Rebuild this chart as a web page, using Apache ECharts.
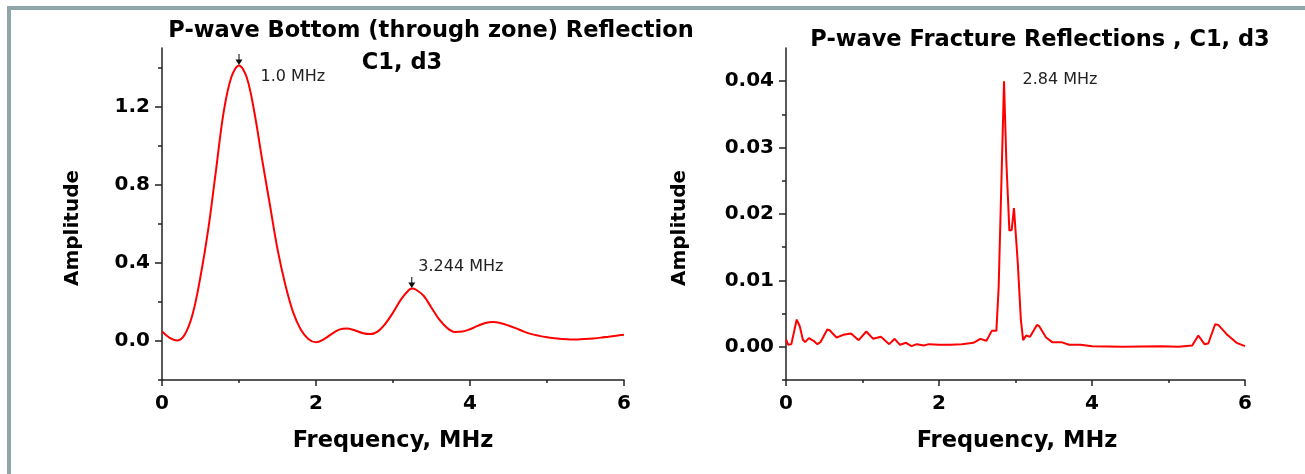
<!DOCTYPE html>
<html><head><meta charset="utf-8">
<script src="https://cdn.jsdelivr.net/npm/echarts@6/dist/echarts.min.js"></script>
<style>html,body{margin:0;padding:0;background:#fff}#c{width:1305px;height:474px}</style>
</head><body><div id="c"></div>
<script>
// ---------- data ----------
const bottomFreq = [0.0,0.1,0.2,0.3,0.4,0.5,0.6,0.7,0.8,0.9,1.0,1.1,1.2,1.3,1.4,1.5,1.6,1.7,1.8,1.9,2.0,2.1,2.2,2.3,2.4,2.5,2.6,2.7,2.8,2.9,3.0,3.1,3.2,3.244,3.3,3.4,3.5,3.6,3.7,3.8,3.9,4.0,4.1,4.2,4.3,4.4,4.5,4.6,4.7,4.8,4.9,5.0,5.1,5.2,5.3,5.4,5.5,5.6,5.7,5.8,5.9,6.0];
const bottomAmp  = [0.048,0.016,0.002,0.035,0.14,0.33,0.57,0.87,1.17,1.35,1.41,1.35,1.17,0.93,0.70,0.47,0.29,0.15,0.06,0.01,-0.007,0.008,0.035,0.058,0.064,0.055,0.041,0.035,0.048,0.088,0.145,0.21,0.258,0.268,0.262,0.23,0.17,0.11,0.068,0.046,0.048,0.06,0.077,0.092,0.097,0.091,0.079,0.064,0.048,0.035,0.026,0.019,0.014,0.01,0.008,0.008,0.01,0.013,0.017,0.022,0.027,0.032];

const fractureFreq = [0.00,0.03,0.07,0.14,0.18,0.22,0.25,0.30,0.36,0.41,0.45,0.54,0.57,0.66,0.75,0.85,0.95,1.05,1.14,1.24,1.35,1.42,1.49,1.57,1.64,1.71,1.80,1.87,2.00,2.15,2.30,2.45,2.54,2.62,2.69,2.75,2.78,2.85,2.88,2.92,2.95,2.98,3.03,3.07,3.10,3.14,3.19,3.28,3.31,3.40,3.48,3.60,3.70,3.85,4.00,4.40,4.90,5.13,5.31,5.39,5.47,5.52,5.61,5.65,5.76,5.89,6.00];
const fractureAmp  = [0.0011,0.0003,0.0004,0.0041,0.0031,0.0011,0.0007,0.0013,0.0009,0.0004,0.0007,0.0026,0.0025,0.0014,0.0018,0.0020,0.0010,0.0023,0.0012,0.0015,0.0004,0.0012,0.0003,0.0006,0.0001,0.0004,0.0002,0.0004,0.0003,0.0003,0.0004,0.0006,0.0012,0.0009,0.0024,0.0024,0.0090,0.0400,0.0280,0.0175,0.0176,0.0209,0.0126,0.0041,0.0010,0.0017,0.0015,0.0033,0.0031,0.0014,0.0007,0.0007,0.0003,0.0003,0.0001,0.0000,0.0001,0.0000,0.0002,0.0017,0.0004,0.0005,0.0034,0.0033,0.0019,0.0006,0.0001];

const xTickLabels = [0,2,4,6];
const xMinorTicks = [1,3,5];
const bottomYTickLabels = [0,0.4,0.8,1.2];
const bottomYMinorTicks = [-0.2,0.2,0.6,1.0,1.4];
const fractureYTickLabels = [0,0.01,0.02,0.03,0.04];
const fractureYMinorTicks = [-0.005,0.005,0.015,0.025,0.035];

const bottomPeaks = [{f:1.0, a:1.41, label:'1.0 MHz', arrow:true}, {f:3.244, a:0.268, label:'3.244 MHz', arrow:true}];
const fracturePeaks = [{f:2.85, a:0.040, label:'2.84 MHz', arrow:false}];

const titleLeft1 = 'P-wave Bottom (through zone) Reflection';
const titleLeft2 = 'C1, d3';
const titleRight = 'P-wave Fracture Reflections , C1, d3';
const xName = 'Frequency, MHz';
const yName = 'Amplitude';

// ---------- styles / layout ----------
const labelOffsets = [[21,11],[6,-22],[18,-1]];
const AX = '#222';
const BOLD = {fontFamily:'DejaVu Sans', fontWeight:'bold', color:'#000'};
const arrowPath = 'path://M4.4,0 L5.6,0 L5.6,7 L9,7 L5,14 L1,7 L4.4,7 Z';

function xMain(gi){
  return {type:'value', gridIndex:gi, min:0, max:6, interval:2,
    axisLine:{show:true, onZero:false, lineStyle:{color:AX, width:1.5}},
    axisTick:{show:true, length:6, customValues:xTickLabels, lineStyle:{color:AX, width:1.5}},
    minorTick:{show:false},
    axisLabel:Object.assign({margin:14, fontSize:20, customValues:xTickLabels}, BOLD),
    splitLine:{show:false}};
}
function xMinor(gi){
  return {type:'value', gridIndex:gi, min:0, max:6,
    axisLine:{show:false, onZero:false}, splitLine:{show:false},
    axisTick:{show:true, length:3, customValues:xMinorTicks, lineStyle:{color:AX, width:1.5}},
    axisLabel:{show:false, customValues:xMinorTicks}};
}
function yMain(gi, mn, mx, vals, dec){
  return {type:'value', gridIndex:gi, min:mn, max:mx,
    axisLine:{show:true, onZero:false, lineStyle:{color:AX, width:1.5}},
    axisTick:{show:true, length:7, customValues:vals, lineStyle:{color:AX, width:1.5}},
    axisLabel:Object.assign({margin:12, fontSize:20, customValues:vals, formatter:v=>Number(v).toFixed(dec)}, BOLD),
    splitLine:{show:false}};
}
function yMinor(gi, mn, mx, vals){
  return {type:'value', gridIndex:gi, min:mn, max:mx,
    axisLine:{show:false, onZero:false}, splitLine:{show:false},
    axisTick:{show:true, length:4, customValues:vals, lineStyle:{color:AX, width:1.5}},
    axisLabel:{show:false, customValues:vals}};
}
let li = 0;
function peakMarks(peaks){
  const d = [];
  peaks.forEach(p=>{
    if (p.arrow) d.push({coord:[p.f,p.a], symbol:arrowPath, symbolKeepAspect:false, symbolSize:[7,11], symbolOffset:[0,-6], itemStyle:{color:'#111'}, label:{show:false}});
    const off = labelOffsets[li++];
    d.push({coord:[p.f,p.a], symbol:'circle', symbolSize:1, itemStyle:{color:'rgba(0,0,0,0)'},
      label:{show:true, formatter:p.label, position:'right', distance:0, offset:off, fontFamily:'DejaVu Sans', fontSize:16, color:'#222'}});
  });
  return {silent:true, animation:false, data:d};
}

const gL = {left:162, top:48, width:462, height:332};
const gR = {left:786, top:48, width:459, height:332};

const chart = echarts.init(document.getElementById('c'), null, {renderer:'canvas'});
const T = (x,y,text,size,rot)=>({type:'text', x:x, y:y, rotation:rot||0, silent:true,
  style:{text:text, font:'bold '+size+'px "DejaVu Sans"', textAlign:'center', textVerticalAlign:'middle', align:'center', verticalAlign:'middle', fill:'#000'}});
chart.setOption({
  backgroundColor:'#fff',
  animation:false,
  grid:[Object.assign({},gL), Object.assign({},gL), Object.assign({},gR), Object.assign({},gR)],
  xAxis:[xMain(0), xMinor(1), xMain(2), xMinor(3)],
  yAxis:[yMain(0,-0.2,1.5,bottomYTickLabels,1), yMinor(1,-0.2,1.5,bottomYMinorTicks),
         yMain(2,-0.005,0.045,fractureYTickLabels,2), yMinor(3,-0.005,0.045,fractureYMinorTicks)],
  series:[
    {type:'line', xAxisIndex:0, yAxisIndex:0, data:bottomFreq.map((f,i)=>[f,bottomAmp[i]]),
     showSymbol:false, smooth:0.35, lineStyle:{color:'#ff0000', width:2}, itemStyle:{color:'#ff0000'},
     markPoint:peakMarks(bottomPeaks)},
    {type:'line', xAxisIndex:2, yAxisIndex:2, data:fractureFreq.map((f,i)=>[f,fractureAmp[i]]),
     showSymbol:false, smooth:false, lineStyle:{color:'#ff0000', width:2}, itemStyle:{color:'#ff0000'},
     markPoint:peakMarks(fracturePeaks)}
  ],
  graphic:[
    {type:'rect', shape:{x:7, y:6, width:1298, height:4}, style:{fill:'#8fa5a7'}, silent:true},
    {type:'rect', shape:{x:7, y:6, width:4, height:468}, style:{fill:'#8fa5a7'}, silent:true},
    T(431,31,titleLeft1,22.5), T(402,63,titleLeft2,22.5), T(1040,40,titleRight,22.5),
    T(393,441,xName,22.5), T(1017,441,xName,22.5),
    T(73,228,yName,20,Math.PI/2), T(680,228,yName,20,Math.PI/2)
  ]
});
</script>
</body></html>
